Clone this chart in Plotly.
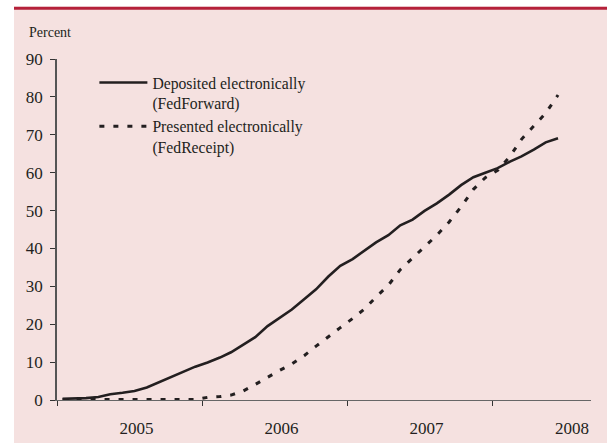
import plotly.graph_objects as go

months = [f"{y}-{m:02d}-15" for y in (2005, 2006, 2007, 2008) for m in range(1, 13)][:42]

deposited = [0.3, 0.4, 0.5, 0.8, 1.5, 1.9, 2.4, 3.3, 4.7, 6.2, 7.6, 8.8,
             9.9, 11.2, 12.6, 14.6, 16.6, 19.5, 21.6, 23.9, 26.6, 29.2, 32.6, 35.4,
             37.2, 39.5, 41.6, 43.5, 46.1, 47.6, 49.9, 51.9, 54.2, 56.7, 58.8, 60.0,
             61.2, 62.9, 64.3, 66.1, 68.0, 69.1]

presented = [0.1, 0.1, 0.1, 0.1, 0.1, 0.1, 0.1, 0.1, 0.1, 0.1, 0.1, 0.1,
             0.7, 0.9, 1.3, 2.4, 4.1, 6.0, 7.8, 9.5, 11.7, 14.2, 16.8, 19.1,
             21.5, 24.1, 27.2, 30.3, 34.4, 37.4, 40.4, 43.5, 47.0, 51.0, 55.6, 58.7,
             60.6, 64.3, 68.8, 72.2, 75.7, 80.5]

year_labels = ["2005", "2006", "2007", "2008"]
label_pos = ["2005-07-20", "2006-07-20", "2007-07-20", "2008-07-20"]
year_starts = ["2005-01-01", "2006-01-01", "2007-01-01", "2008-01-01"]
y_ticks = [0, 10, 20, 30, 40, 50, 60, 70, 80, 90]

INK = "#231f20"
PINK = "#f5e1e0"
FONT = "Liberation Serif"

fig = go.Figure()
fig.add_trace(go.Scatter(x=months, y=deposited, mode="lines",
                         name="Deposited electronically<br>(FedForward)",
                         line=dict(color=INK, width=2.6)))
fig.add_trace(go.Scatter(x=months, y=presented, mode="lines",
                         name="Presented electronically<br>(FedReceipt)",
                         line=dict(color=INK, width=3, dash="5px,9px")))

x_range = ["2005-01-01", "2008-09-06"]

fig.update_layout(
    width=607, height=443,
    margin=dict(l=57, r=16, t=59, b=43),
    paper_bgcolor=PINK, plot_bgcolor=PINK,
    font=dict(family=FONT, size=17, color=INK),
    showlegend=True,
    legend=dict(x=0.07, y=0.98, xanchor="left", yanchor="top",
                bgcolor="rgba(0,0,0,0)", valign="top",
                font=dict(family=FONT, size=15.7, color=INK),
                tracegroupgap=4, itemwidth=48),
    xaxis=dict(type="date", range=x_range, showgrid=False, zeroline=False,
               automargin=False,
               showline=True, linecolor="#666666", linewidth=1.2,
               tickmode="array", tickvals=label_pos, ticktext=year_labels,
               ticks="", ticklabelstandoff=12,
               minor=dict(tickmode="array", tickvals=year_starts, ticks="outside",
                          ticklen=5, tickcolor="#333333", tickwidth=1.2)),
    xaxis2=dict(type="date", range=x_range, overlaying="x", anchor="y",
                automargin=False,
                showgrid=False, zeroline=False, showline=False,
                tickmode="array", tickvals=year_starts, ticks="inside",
                ticklen=5, tickcolor="#333333", tickwidth=1.2,
                showticklabels=False),
    yaxis=dict(range=[0, 90], tickvals=y_ticks, showgrid=False, zeroline=False,
               automargin=False,
               showline=True, linecolor="#555555", linewidth=1.5,
               ticks="outside", ticklen=5, tickcolor="#333333", tickwidth=1.2,
               ticklabelstandoff=4),
    annotations=[dict(text="Percent", xref="paper", yref="paper",
                      x=(27 - 57) / 534, y=(400 - 42) / 340.7,
                      xanchor="left", yanchor="bottom", showarrow=False,
                      font=dict(family=FONT, size=14, color=INK))],
    shapes=[
        dict(type="rect", xref="paper", yref="paper", layer="below",
             x0=-57 / 534, x1=-43 / 534, y0=-0.2, y1=1.2,
             fillcolor="white", line=dict(width=0)),
        dict(type="rect", xref="paper", yref="paper", layer="below",
             x0=-57 / 534, x1=1.1, y0=(400 - 7) / 340.7, y1=1.2,
             fillcolor="white", line=dict(width=0)),
        dict(type="rect", xref="paper", yref="paper", layer="below",
             x0=-43 / 534, x1=1.1, y0=(400 - 10) / 340.7, y1=(400 - 7) / 340.7,
             fillcolor="#b5213a", line=dict(width=0)),
    ],
)

fig.write_html("out.html", config={"displayModeBar": False},
               post_script="document.body.style.margin='0';")
